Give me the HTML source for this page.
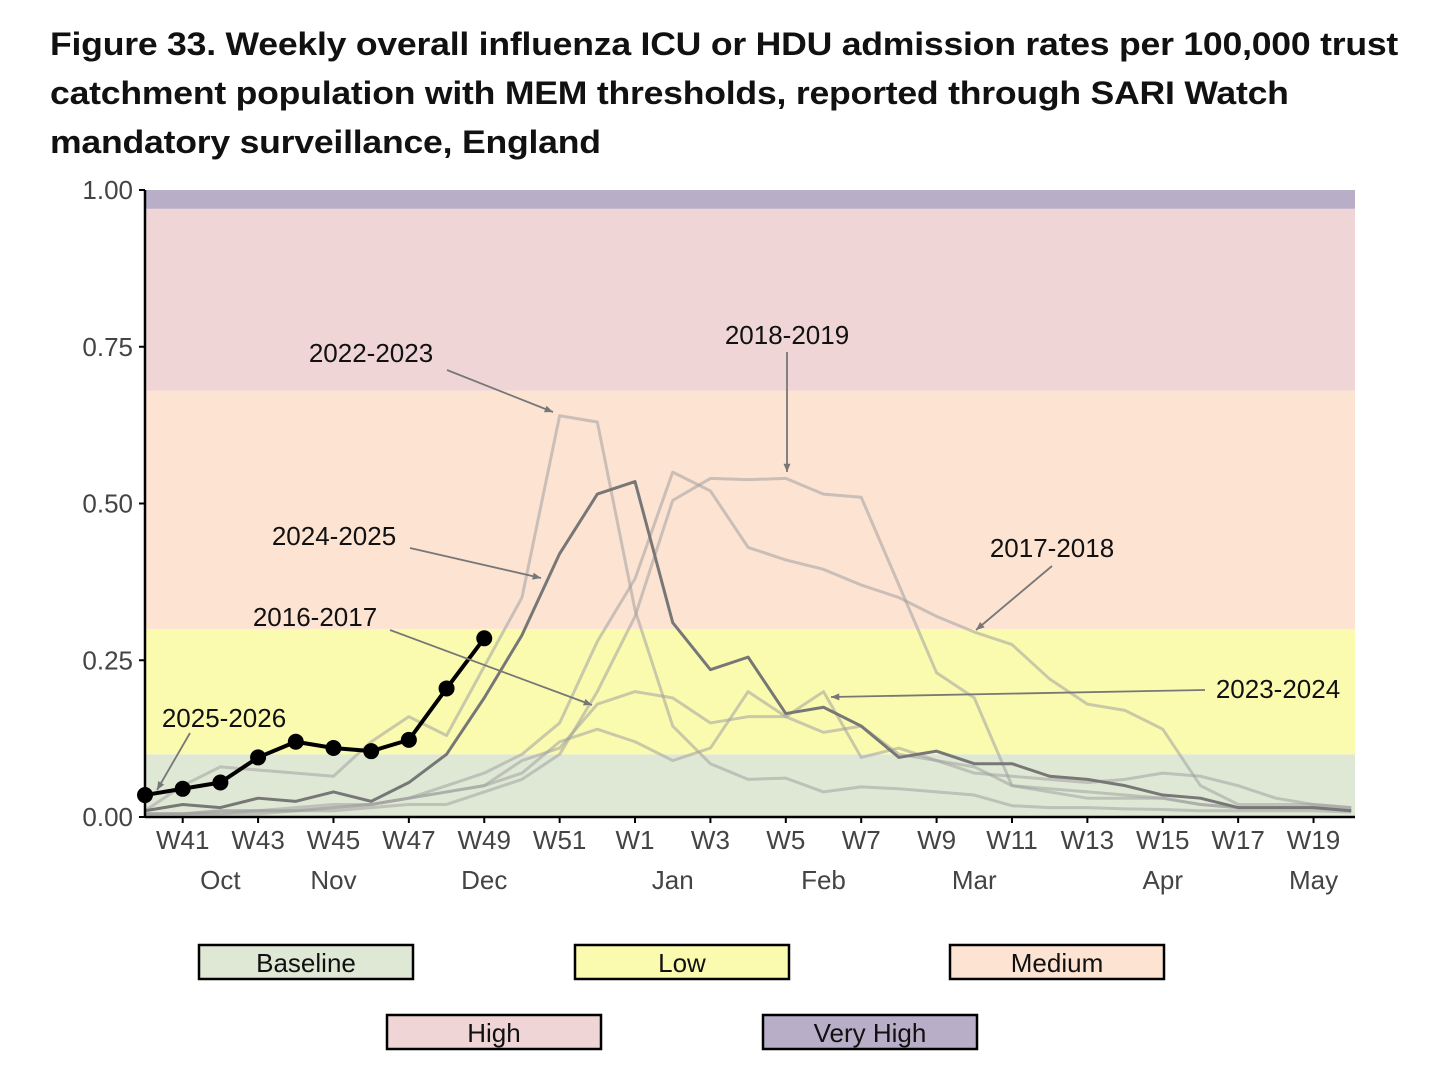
<!DOCTYPE html>
<html><head><meta charset="utf-8"><style>
body{margin:0;background:#fff;width:1456px;height:1089px;overflow:hidden;font-family:"Liberation Sans",sans-serif}
#title{position:absolute;left:50px;top:20px;width:1400px;font-weight:bold;font-size:32px;line-height:49px;color:#111;letter-spacing:-0.2px;white-space:nowrap;transform:scaleX(1.112);transform-origin:0 0}
svg{position:absolute;left:0;top:0}
</style></head><body>
<div id="title">Figure 33. Weekly overall influenza ICU or HDU admission rates per 100,000 trust<br>catchment population with MEM thresholds, reported through SARI Watch<br>mandatory surveillance, England</div>
<svg id="chart" width="1456" height="1089"></svg>
<script>
const weekLabels=["W41","W43","W45","W47","W49","W51","W1","W3","W5","W7","W9","W11","W13","W15","W17","W19"];
const weekIdx=[1,3,5,7,9,11,13,15,17,19,21,23,25,27,29,31];
const monthLabels=["Oct","Nov","Dec","Jan","Feb","Mar","Apr","May"];
const monthIdx=[2,5,9,14,18,22,27,31];
const yTicks=[0,0.25,0.5,0.75,1.0];
const bandNames=["Baseline","Low","Medium","High","Very High"];
const bandLo=[0,0.10,0.30,0.68,0.97];
const bandHi=[0.10,0.30,0.68,0.97,1.0];
const bandColors=["#dfe8d5","#fbfbb0","#fde3d2","#efd5d6","#b9aec8"];
const s2016=[0.005,0.005,0.01,0.01,0.01,0.015,0.02,0.03,0.04,0.05,0.09,0.11,0.18,0.2,0.19,0.15,0.16,0.16,0.135,0.145,0.1,0.09,0.08,0.05,0.045,0.04,0.035,0.03,0.02,0.015,0.015,0.015,0.01];
const s2017=[0.005,0.005,0.005,0.01,0.01,0.015,0.02,0.03,0.05,0.07,0.1,0.15,0.28,0.38,0.55,0.52,0.43,0.41,0.395,0.37,0.35,0.32,0.295,0.275,0.22,0.18,0.17,0.14,0.05,0.02,0.02,0.02,0.015];
const s2018=[0.005,0.005,0.005,0.005,0.01,0.01,0.015,0.02,0.02,0.04,0.06,0.1,0.2,0.32,0.505,0.54,0.538,0.54,0.515,0.51,0.37,0.23,0.19,0.05,0.04,0.03,0.03,0.03,0.02,0.015,0.015,0.015,0.01];
const s2022=[0.01,0.05,0.08,0.075,0.07,0.065,0.12,0.16,0.13,0.24,0.35,0.64,0.63,0.33,0.145,0.085,0.06,0.062,0.04,0.048,0.045,0.04,0.035,0.018,0.015,0.015,0.013,0.012,0.01,0.01,0.01,0.01,0.008];
const s2023=[0.005,0.005,0.01,0.01,0.015,0.02,0.02,0.03,0.04,0.05,0.07,0.12,0.14,0.12,0.09,0.11,0.2,0.16,0.2,0.095,0.11,0.09,0.07,0.065,0.06,0.055,0.06,0.07,0.065,0.05,0.03,0.02,0.015];
const s2024=[0.01,0.02,0.015,0.03,0.025,0.04,0.025,0.055,0.1,0.19,0.29,0.42,0.515,0.535,0.31,0.235,0.255,0.165,0.175,0.145,0.095,0.105,0.085,0.085,0.065,0.06,0.05,0.035,0.03,0.015,0.015,0.015,0.01];
const s2025=[0.035,0.045,0.055,0.095,0.12,0.11,0.105,0.123,0.205,0.285];
const x0=145,x1=1355,xMax=32.1,yBot=817,yTop=190;
const X=i=>x0+(x1-x0)*i/xMax;
const Y=v=>yBot-(yBot-yTop)*v;
const svg=document.getElementById('chart');
const NS="http://www.w3.org/2000/svg";
function mk(t,a,p){const e=document.createElementNS(NS,t);for(const k in a)e.setAttribute(k,a[k]);(p||svg).appendChild(e);return e;}
bandNames.forEach((n,i)=>{
  const r=mk('rect',{x:x0,y:Y(bandHi[i]),width:x1-x0,height:Y(bandLo[i])-Y(bandHi[i]),fill:bandColors[i]});
  
  
});
function line(data,color,w,name){
  const p=mk('polyline',{points:data.map((v,i)=>X(i)+','+Y(v)).join(' '),fill:'none',stroke:color,'stroke-width':w,'stroke-linejoin':'round'});
  
  
}
line(s2016,'rgba(160,160,160,0.55)',3,'line-2016-2017');
line(s2017,'rgba(160,160,160,0.55)',3,'line-2017-2018');
line(s2018,'rgba(160,160,160,0.55)',3,'line-2018-2019');
line(s2022,'rgba(160,160,160,0.55)',3,'line-2022-2023');
line(s2023,'rgba(160,160,160,0.55)',3,'line-2023-2024');
line(s2024,'#777',3,'line-2024-2025');
line(s2025,'#000',4,'line-2025-2026');
s2025.forEach((v,i)=>{const c=mk('circle',{cx:X(i),cy:Y(v),r:8,fill:'#000'});

});
mk('line',{x1:x0,y1:yTop,x2:x0,y2:yBot+1,stroke:'#000','stroke-width':2.5});
mk('line',{x1:x0,y1:yBot,x2:x1,y2:yBot,stroke:'#000','stroke-width':2.5});
yTicks.forEach(v=>{
  mk('line',{x1:x0-6,y1:Y(v),x2:x0,y2:Y(v),stroke:'#000','stroke-width':2});
  const t=mk('text',{x:x0-12,y:Y(v)+9,'text-anchor':'end','font-size':26,fill:'#444'});t.textContent=v.toFixed(2);
  
  
});
weekLabels.forEach((l,i)=>{
  mk('line',{x1:X(weekIdx[i]),y1:yBot,x2:X(weekIdx[i]),y2:yBot+6,stroke:'#000','stroke-width':2});
  const t=mk('text',{x:X(weekIdx[i]),y:849,'text-anchor':'middle','font-size':26,fill:'#444'});t.textContent=l;
  
  
});
monthLabels.forEach((l,i)=>{
  const t=mk('text',{x:X(monthIdx[i]),y:889,'text-anchor':'middle','font-size':26,fill:'#444'});t.textContent=l;
  
  
});
const anns=[["2022-2023",371,362,447,370,553,412],["2018-2019",787,344,787,352,787,472],["2024-2025",334,545,410,548,541,578],["2016-2017",315,626,390,630,592,705],["2017-2018",1052,557,1052,566,976,630],["2023-2024",1278,698,1205,690,831,697],["2025-2026",224,727,190,733,157,790]];
anns.forEach(a=>{
  const t=mk('text',{x:a[1],y:a[2],'text-anchor':'middle','font-size':26,fill:'#111'});t.textContent=a[0];
  
  
  mk('line',{x1:a[3],y1:a[4],x2:a[5],y2:a[6],stroke:'#777','stroke-width':1.8});
  const ang=Math.atan2(a[6]-a[4],a[5]-a[3]),L=9;
  mk('polygon',{points:`${a[5]},${a[6]} ${a[5]-L*Math.cos(ang-0.4)},${a[6]-L*Math.sin(ang-0.4)} ${a[5]-L*Math.cos(ang+0.4)},${a[6]-L*Math.sin(ang+0.4)}`,fill:'#777'});
});
const legX=[199,575,950,387,763],legY=[945,945,945,1015,1015];
bandNames.forEach((n,i)=>{
  const g=mk('g',{});
  
  
  mk('rect',{x:legX[i],y:legY[i],width:214,height:34,fill:bandColors[i],stroke:'#000','stroke-width':2.5},g);
  const t=mk('text',{x:legX[i]+107,y:legY[i]+27,'text-anchor':'middle','font-size':26,fill:'#111'},g);t.textContent=n;
});
</script>
</body></html>
